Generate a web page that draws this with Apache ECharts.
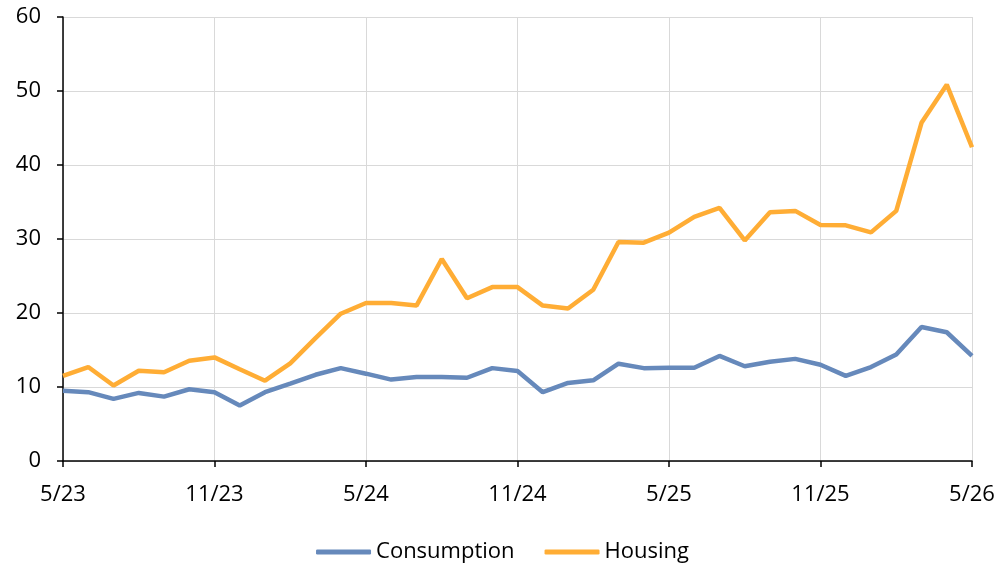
<!DOCTYPE html>
<html>
<head>
<meta charset="utf-8">
<script src="https://cdn.jsdelivr.net/npm/echarts@6/dist/echarts.min.js"></script>
<style>
  html, body { margin: 0; padding: 0; background: #fff; }
  #chart { width: 1005px; height: 574px; }
</style>
</head>
<body>
<div id="chart"></div>
<script>
// 月份（2023年5月 到 2026年5月）
const months = [
  '5/23', '6/23', '7/23', '8/23', '9/23', '10/23', '11/23', '12/23',
  '1/24', '2/24', '3/24', '4/24', '5/24', '6/24', '7/24', '8/24', '9/24', '10/24', '11/24', '12/24',
  '1/25', '2/25', '3/25', '4/25', '5/25', '6/25', '7/25', '8/25', '9/25', '10/25', '11/25', '12/25',
  '1/26', '2/26', '3/26', '4/26', '5/26'
];

const consumption = [
  9.5, 9.3, 8.4, 9.2, 8.7, 9.7, 9.3, 7.5, 9.3, 10.45, 11.65, 12.55,
  11.8, 11.0, 11.35, 11.35, 11.25, 12.55, 12.15, 9.3, 10.55, 10.9, 13.15, 12.55,
  12.6, 12.6, 14.2, 12.8, 13.4, 13.8, 13.0, 11.5, 12.7, 14.4, 18.1, 17.4, 14.2
];

const housing = [
  11.5, 12.7, 10.2, 12.2, 12.0, 13.55, 14.0, 12.4, 10.85, 13.2, 16.6, 19.9,
  21.35, 21.35, 21.0, 27.3, 22.0, 23.5, 23.5, 21.0, 20.6, 23.15, 29.6, 29.5,
  30.85, 33.0, 34.2, 29.8, 33.6, 33.8, 31.9, 31.85, 30.9, 33.8, 45.7, 50.85, 42.4
];

const FONT = '"Open Sans", "Noto Sans", sans-serif';

const chart = echarts.init(document.getElementById('chart'));

const option = {
  animation: false,
  grid: {
    left: 63,
    right: 33,
    top: 17,
    bottom: 113
  },
  legend: {
    bottom: 6,
    left: 'center',
    icon: 'roundRect',
    itemWidth: 55,
    itemHeight: 5,
    itemGap: 30,
    textStyle: { fontFamily: FONT, fontSize: 22, color: '#000' },
    data: ['Consumption', 'Housing']
  },
  xAxis: {
    type: 'category',
    boundaryGap: false,
    data: months,
    axisLine: { lineStyle: { color: '#000', width: 1.5 } },
    axisTick: { show: true, interval: 5, length: 6, lineStyle: { color: '#000', width: 1.5 } },
    axisLabel: { interval: 5, margin: 23, fontFamily: FONT, fontSize: 22, color: '#000' },
    splitLine: { show: true, interval: 5, lineStyle: { color: '#d9d9d9', width: 1 } }
  },
  yAxis: {
    type: 'value',
    min: 0,
    max: 60,
    interval: 10,
    axisLine: { show: true, lineStyle: { color: '#000', width: 1.5 } },
    axisTick: { show: true, length: 6, lineStyle: { color: '#000', width: 1.5 } },
    axisLabel: { margin: 22, fontFamily: FONT, fontSize: 22, color: '#000' },
    splitLine: { show: true, lineStyle: { color: '#d9d9d9', width: 1 } }
  },
  series: [
    {
      name: 'Consumption',
      type: 'line',
      data: consumption,
      symbol: 'none',
      lineStyle: { color: '#6689bb', width: 4.5 },
      itemStyle: { color: '#6689bb' }
    },
    {
      name: 'Housing',
      type: 'line',
      data: housing,
      symbol: 'none',
      lineStyle: { color: '#ffad35', width: 4.5 },
      itemStyle: { color: '#ffad35' }
    }
  ]
};

chart.setOption(option);
</script>
</body>
</html>
